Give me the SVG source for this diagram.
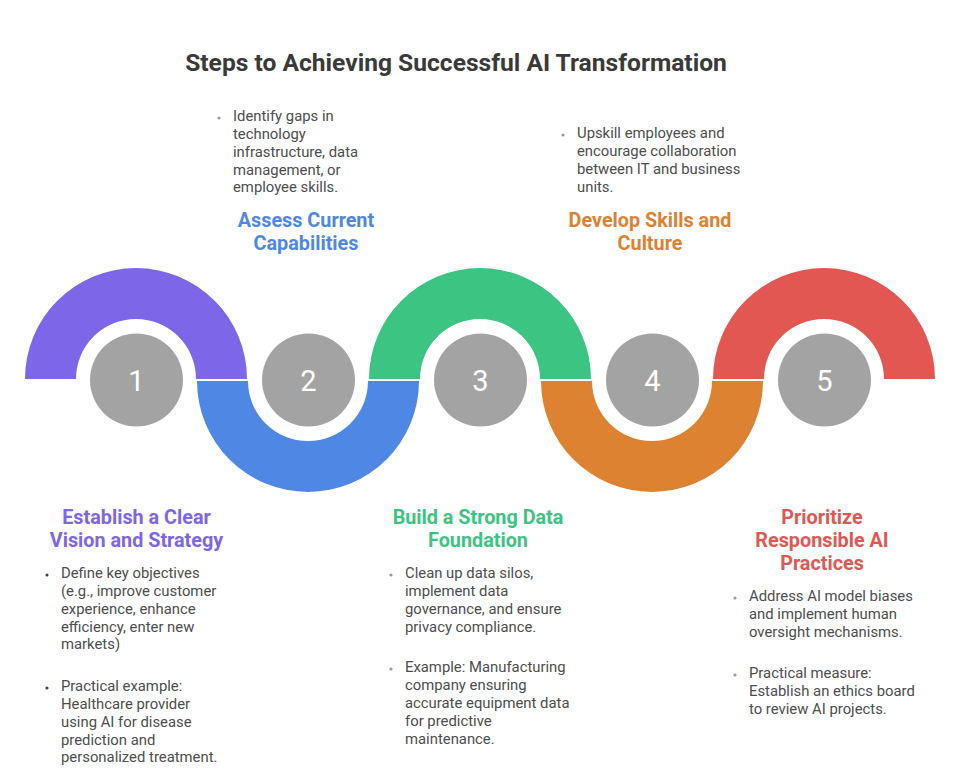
<svg xmlns="http://www.w3.org/2000/svg" width="961" height="768" viewBox="0 0 961 768">
<style>
.title{font-family:Roboto,"Liberation Sans",sans-serif;font-weight:bold;font-size:24.6px;fill:#3a3a3a;text-anchor:middle}
.head{font-family:Roboto,"Liberation Sans",sans-serif;font-weight:bold;font-size:19.8px;text-anchor:middle}
.body{font-family:Roboto,"Liberation Sans",sans-serif;font-size:14.85px;fill:#4d4d4d}
.num{font-family:Roboto,"Liberation Sans",sans-serif;font-size:29px;fill:#ffffff;text-anchor:middle}
.circ{fill:#a3a3a3}
.dot{fill:#9a9a9a}
</style>
<rect width="961" height="768" fill="#ffffff"/>
<text class="title" x="456" y="71">Steps to Achieving Successful AI Transformation</text>
<g id="connectors">
<path d="M25,379 A111,111 0 0 1 247,379 L196,379 A60,60 0 0 0 76,379 Z" fill="#7d66e8"/>
<path d="M197,381 A111,111 0 0 0 419,381 L368,381 A60,60 0 0 1 248,381 Z" fill="#4e88e4"/>
<path d="M369,379 A111,111 0 0 1 591,379 L540,379 A60,60 0 0 0 420,379 Z" fill="#3cc482"/>
<path d="M541,381 A111,111 0 0 0 763,381 L712,381 A60,60 0 0 1 592,381 Z" fill="#dc8230"/>
<path d="M713,379 A111,111 0 0 1 935,379 L884,379 A60,60 0 0 0 764,379 Z" fill="#e35753"/>
</g>
<g id="step1">
<circle class="circ" cx="136.5" cy="380" r="46.5"/>
<text class="num" x="136.5" y="390.5">1</text>
<text class="head" x="136.5" y="524" fill="#7d66e8">Establish a Clear</text>
<text class="head" x="136.5" y="547" fill="#7d66e8">Vision and Strategy</text>
<circle cx="47" cy="575" r="1.6" fill="#444"/>
<text class="body" x="61"><tspan x="61" y="578">Define key objectives</tspan><tspan x="61" y="596">(e.g., improve customer</tspan><tspan x="61" y="614">experience, enhance</tspan><tspan x="61" y="632">efficiency, enter new</tspan><tspan x="61" y="649">markets)</tspan></text>
<circle cx="47" cy="688" r="1.6" fill="#444"/>
<text class="body" x="61"><tspan x="61" y="691">Practical example:</tspan><tspan x="61" y="709">Healthcare provider</tspan><tspan x="61" y="727">using AI for disease</tspan><tspan x="61" y="745">prediction and</tspan><tspan x="61" y="762">personalized treatment.</tspan></text>
</g>
<g id="step2">
<circle class="circ" cx="308.5" cy="380" r="46.5"/>
<text class="num" x="308.5" y="390.5">2</text>
<circle class="dot" cx="219" cy="118" r="1.6"/>
<text class="body" x="233"><tspan x="233" y="121">Identify gaps in</tspan><tspan x="233" y="139">technology</tspan><tspan x="233" y="157">infrastructure, data</tspan><tspan x="233" y="175">management, or</tspan><tspan x="233" y="192">employee skills.</tspan></text>
<text class="head" x="306" y="227" fill="#4e88e4">Assess Current</text>
<text class="head" x="306" y="250" fill="#4e88e4">Capabilities</text>
</g>
<g id="step3">
<circle class="circ" cx="480.5" cy="380" r="46.5"/>
<text class="num" x="480.5" y="390.5">3</text>
<text class="head" x="478" y="524" fill="#3cc482">Build a Strong Data</text>
<text class="head" x="478" y="547" fill="#3cc482">Foundation</text>
<circle class="dot" cx="391" cy="575" r="1.6"/>
<text class="body" x="405"><tspan x="405" y="578">Clean up data silos,</tspan><tspan x="405" y="596">implement data</tspan><tspan x="405" y="614">governance, and ensure</tspan><tspan x="405" y="632">privacy compliance.</tspan></text>
<circle class="dot" cx="391" cy="669" r="1.6"/>
<text class="body" x="405"><tspan x="405" y="672">Example: Manufacturing</tspan><tspan x="405" y="690">company ensuring</tspan><tspan x="405" y="708">accurate equipment data</tspan><tspan x="405" y="726">for predictive</tspan><tspan x="405" y="744">maintenance.</tspan></text>
</g>
<g id="step4">
<circle class="circ" cx="652.5" cy="380" r="46.5"/>
<text class="num" x="652.5" y="390.5">4</text>
<circle class="dot" cx="563" cy="135" r="1.6"/>
<text class="body" x="577"><tspan x="577" y="138">Upskill employees and</tspan><tspan x="577" y="156">encourage collaboration</tspan><tspan x="577" y="174">between IT and business</tspan><tspan x="577" y="192">units.</tspan></text>
<text class="head" x="650" y="227" fill="#dc8230">Develop Skills and</text>
<text class="head" x="650" y="250" fill="#dc8230">Culture</text>
</g>
<g id="step5">
<circle class="circ" cx="824.5" cy="380" r="46.5"/>
<text class="num" x="824.5" y="390.5">5</text>
<text class="head" x="822" y="524" fill="#e35753">Prioritize</text>
<text class="head" x="822" y="547" fill="#e35753">Responsible AI</text>
<text class="head" x="822" y="570" fill="#e35753">Practices</text>
<circle class="dot" cx="735" cy="598" r="1.6"/>
<text class="body" x="749"><tspan x="749" y="601">Address AI model biases</tspan><tspan x="749" y="619">and implement human</tspan><tspan x="749" y="637">oversight mechanisms.</tspan></text>
<circle class="dot" cx="735" cy="675" r="1.6"/>
<text class="body" x="749"><tspan x="749" y="678">Practical measure:</tspan><tspan x="749" y="696">Establish an ethics board</tspan><tspan x="749" y="714">to review AI projects.</tspan></text>
</g>
</svg>
